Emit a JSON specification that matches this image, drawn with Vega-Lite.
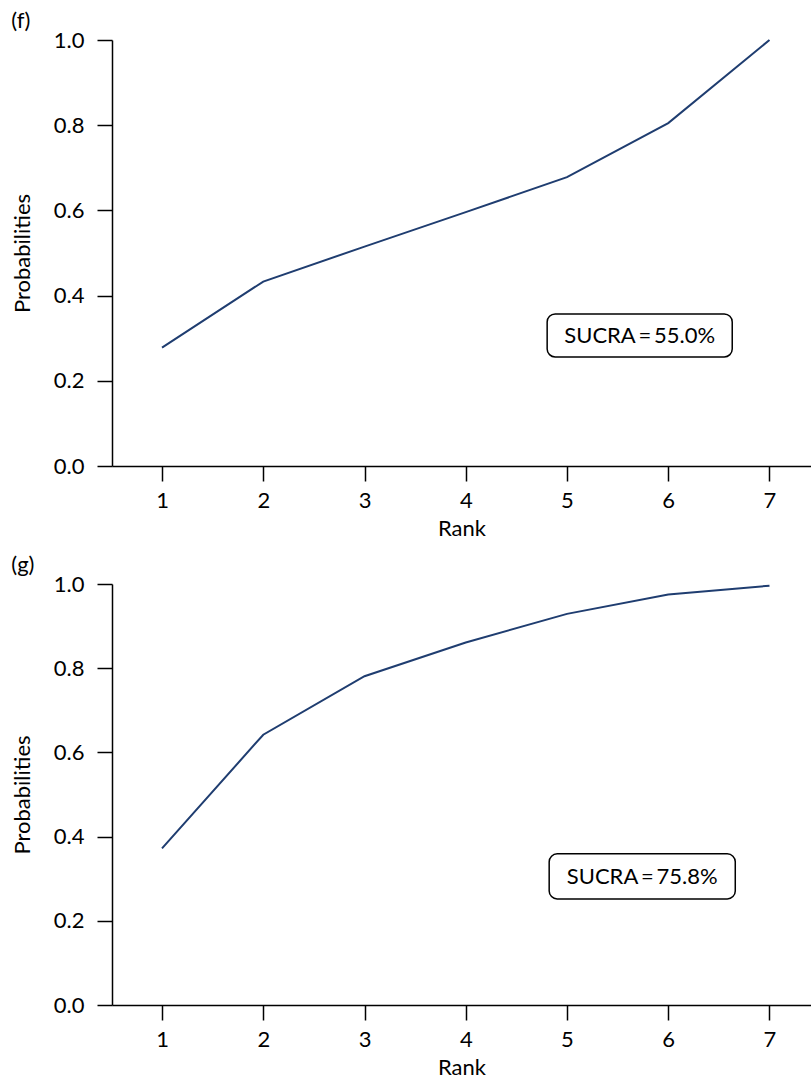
{
  "$schema": "https://vega.github.io/schema/vega-lite/v6.json",
  "padding": {"left": 11, "top": 10, "right": 0, "bottom": 0},
  "spacing": 15,
  "config": {
    "view": {"stroke": null},
    "font": "Lato",
    "title": {"font": "Lato", "fontSize": 22, "fontWeight": "normal", "anchor": "start", "frame": "bounds", "color": "black", "offset": -4},
    "axis": {
      "labelFont": "Lato", "labelFontSize": 22, "labelColor": "black",
      "titleFont": "Lato", "titleFontSize": 22, "titleFontWeight": "normal", "titleColor": "black",
      "domainColor": "black", "domainWidth": 1.5, "tickColor": "black", "tickWidth": 1.5, "tickSize": 15,
      "grid": false
    }
  },
  "datasets": {
    "f": [
      {"rank": 1, "prob": 0.278}, {"rank": 2, "prob": 0.433}, {"rank": 3, "prob": 0.515},
      {"rank": 4, "prob": 0.596}, {"rank": 5, "prob": 0.678}, {"rank": 6, "prob": 0.805}, {"rank": 7, "prob": 1.0}
    ],
    "g": [
      {"rank": 1, "prob": 0.372}, {"rank": 2, "prob": 0.642}, {"rank": 3, "prob": 0.781},
      {"rank": 4, "prob": 0.861}, {"rank": 5, "prob": 0.929}, {"rank": 6, "prob": 0.975}, {"rank": 7, "prob": 0.996}
    ],
    "fl": [{"label": "SUCRA\u2009=\u200955.0%"}],
    "gl": [{"label": "SUCRA\u2009=\u200975.8%"}]
  },
  "vconcat": [
    {
      "title": "(f)",
      "width": 699, "height": 426,
      "layer": [
        {
          "data": {"name": "f"},
          "mark": {"type": "line", "color": "#1f3d70", "strokeWidth": 2},
          "encoding": {
            "x": {"field": "rank", "type": "quantitative", "scale": {"domain": [0.506, 7.41], "nice": false, "zero": false},
                  "axis": {"values": [1,2,3,4,5,6,7], "format": "d", "title": "Rank", "labelPadding": 9, "titlePadding": 7}},
            "y": {"field": "prob", "type": "quantitative", "scale": {"domain": [0, 1], "nice": false},
                  "axis": {"values": [0,0.2,0.4,0.6,0.8,1.0], "format": ".1f", "title": "Probabilities", "labelPadding": 13, "titlePadding": 19}}
          }
        },
        {
          "data": {"name": "fl"},
          "mark": {"type": "rect", "fill": "white", "stroke": "black", "strokeWidth": 1.5, "cornerRadius": 8},
          "encoding": {
            "x": {"datum": 4.804, "type": "quantitative"}, "x2": {"datum": 6.632},
            "y": {"datum": 0.357, "type": "quantitative"}, "y2": {"datum": 0.256}
          }
        },
        {
          "data": {"name": "fl"},
          "mark": {"type": "text", "fontSize": 22, "font": "Lato", "color": "black", "align": "center", "baseline": "middle"},
          "encoding": {
            "x": {"datum": 5.718, "type": "quantitative"},
            "y": {"datum": 0.305, "type": "quantitative"},
            "text": {"field": "label"}
          }
        }
      ]
    },
    {
      "title": "(g)",
      "width": 699, "height": 421,
      "layer": [
        {
          "data": {"name": "g"},
          "mark": {"type": "line", "color": "#1f3d70", "strokeWidth": 2},
          "encoding": {
            "x": {"field": "rank", "type": "quantitative", "scale": {"domain": [0.506, 7.41], "nice": false, "zero": false},
                  "axis": {"values": [1,2,3,4,5,6,7], "format": "d", "title": "Rank", "labelPadding": 9, "titlePadding": 7}},
            "y": {"field": "prob", "type": "quantitative", "scale": {"domain": [0, 1], "nice": false},
                  "axis": {"values": [0,0.2,0.4,0.6,0.8,1.0], "format": ".1f", "title": "Probabilities", "labelPadding": 13, "titlePadding": 19}}
          }
        },
        {
          "data": {"name": "gl"},
          "mark": {"type": "rect", "fill": "white", "stroke": "black", "strokeWidth": 1.5, "cornerRadius": 8},
          "encoding": {
            "x": {"datum": 4.824, "type": "quantitative"}, "x2": {"datum": 6.662},
            "y": {"datum": 0.359, "type": "quantitative"}, "y2": {"datum": 0.252}
          }
        },
        {
          "data": {"name": "gl"},
          "mark": {"type": "text", "fontSize": 22, "font": "Lato", "color": "black", "align": "center", "baseline": "middle"},
          "encoding": {
            "x": {"datum": 5.743, "type": "quantitative"},
            "y": {"datum": 0.304, "type": "quantitative"},
            "text": {"field": "label"}
          }
        }
      ]
    }
  ]
}
